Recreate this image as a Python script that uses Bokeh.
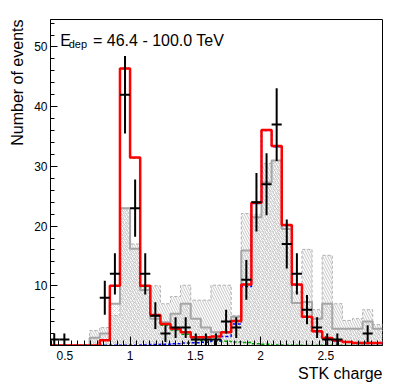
import math
from bokeh.plotting import figure
from bokeh.models import FixedTicker, Label, Range1d, Title
from bokeh.embed import file_html
from bokeh.resources import INLINE

# ---- binning (STK charge) ----
bin_lo = 0.38
bin_w = 0.0775
n_bins = 33
edges = [bin_lo + bin_w * i for i in range(n_bins + 1)]

# ---- data (events per bin) ----
counts = [1, 1, 0, 0, 0, 8, 12, 42, 23, 12, 5, 2, 3, 3, 1, 1, 1, 4, 3, 11,
          24, 27, 37, 17, 12, 6, 3, 1, 1, 0, 0, 2, 0]
count_err = [1.0, 1.0, 0, 0, 0, 2.83, 3.46, 6.48, 4.80, 3.46, 2.24, 1.41, 1.73,
             1.73, 1.0, 1.0, 1.0, 2.0, 1.73, 3.32, 4.90, 5.20, 6.08, 4.12, 3.46,
             2.45, 1.73, 1.0, 1.0, 0, 0, 1.41, 0]

# ---- fit result (red total) ----
fit_total = [0, 0, 0, 0, 0, 0.9, 10.0, 46.4, 31.5, 10.0, 5.1, 3.6, 2.8, 2.2,
             1.4, 1.4, 1.5, 2.2, 4.1, 10.2, 23.9, 36.1, 33.4, 20.2, 10.2, 4.8,
             2.4, 1.25, 0.85, 0.6, 0.4, 0.4, 0.4]
# ---- fit components ----
fit_z1 = [0, 0, 0, 0, 0, 0.9, 10.0, 46.4, 31.4, 9.9, 5.0, 3.4, 2.6, 1.9, 1.0,
          0.8, 0.7, 0.7, 0.6, 0.5, 0.3, 0.2, 0.1, 0.08, 0.05, 0.05, 0.05, 0.03,
          0.03, 0.02, 0.02, 0.02, 0.02]
fit_z2 = [0.02, 0.02, 0.02, 0.02, 0.02, 0.03, 0.04, 0.05, 0.06, 0.08, 0.15,
          0.2, 0.3, 0.4, 0.45, 0.55, 0.8, 1.5, 3.6, 9.9, 23.8, 36.0, 33.3, 20.1,
          10.1, 4.75, 2.35, 1.2, 0.8, 0.55, 0.35, 0.35, 0.35]

# ---- grey templates ----
templ_solid = [0, 0, 0, 0, 1.3, 2.0, 7.0, 23.0, 16.2, 9.3, 4.5, 3.9, 5.3, 7.0,
               4.5, 3.0, 2.2, 2.2, 4.8, 15.9, 21.5, 27.3, 31.0, 19.5, 7.1, 7.3,
               4.5, 7.0, 2.8, 2.8, 2.8, 4.0, 2.8]
templ_dashed = [0, 0, 0, 0, 2.5, 3.0, 5.0, 23.0, 17.0, 10.0, 10.0, 7.0, 8.2,
                10.1, 7.6, 7.6, 10.1, 10.1, 5.0, 22.1, 22.0, 30.5, 31.0, 20.0,
                9.0, 16.1, 6.0, 15.1, 7.0, 4.2, 4.5, 6.0, 3.5]

x_major = [0.5, 1.0, 1.5, 2.0, 2.5]
x_major_labels = ["0.5", "1", "1.5", "2", "2.5"]
y_major = [10, 20, 30, 40, 50]

FONT = "Liberation Sans"
X0, X1 = 0.39, 2.935
Y0, Y1 = 0.0, 54.6

p = figure(width=399, height=387, output_backend="svg", toolbar_location=None,
           x_range=Range1d(X0, X1), y_range=Range1d(Y0, Y1),
           frame_width=332, frame_height=326,
           min_border_left=48, min_border_right=19, min_border_top=19,
           min_border_bottom=42)
p.xgrid.visible = False
p.ygrid.visible = False
p.outline_line_color = "black"
p.outline_line_width = 1
p.background_fill_color = "white"
p.border_fill_color = "white"

lefts = edges[:-1]
rights = edges[1:]

# hatched templates
p.quad(left=lefts, right=rights, bottom=0, top=templ_dashed, fill_alpha=0,
       line_alpha=0, hatch_pattern="\\", hatch_color="#b8b8b8",
       hatch_scale=5, hatch_weight=0.8)
p.quad(left=lefts, right=rights, bottom=0, top=templ_solid, fill_alpha=0,
       line_alpha=0, hatch_pattern="x", hatch_color="#c4c4c4",
       hatch_scale=4, hatch_weight=0.6)

def step(vals, **kw):
    p.step(x=edges, y=list(vals) + [vals[-1]], mode="after", **kw)

step(templ_dashed, line_color="#b0b0b0", line_width=1, line_dash="3 2")
step(templ_solid, line_color="#a6a6a6", line_width=2)
step(fit_z1, line_color="#00a000", line_width=1.5, line_dash="3 2")
step(fit_z2, line_color="#0000ff", line_width=1.5, line_dash="3 2")
step(fit_total, line_color="#ff0000", line_width=2.5)

# data points with errors
cx = [(a + b) / 2 for a, b in zip(lefts, rights)]
sel = [i for i, c in enumerate(counts) if c > 0]
p.segment(x0=[cx[i] for i in sel], x1=[cx[i] for i in sel],
          y0=[counts[i] - count_err[i] for i in sel],
          y1=[counts[i] + count_err[i] for i in sel],
          line_color="black", line_width=2)
p.segment(x0=[lefts[i] for i in sel], x1=[rights[i] for i in sel],
          y0=[counts[i] for i in sel], y1=[counts[i] for i in sel],
          line_color="black", line_width=2)

# axes
xa = p.xaxis[0]
xa.ticker = FixedTicker(ticks=x_major,
                        minor_ticks=[round(0.4 + 0.05 * i, 3) for i in range(51)])
xa.major_label_overrides = {v: s for v, s in zip(x_major, x_major_labels)}
xa.major_tick_in = 9
xa.major_tick_out = 0
xa.minor_tick_in = 5
xa.minor_tick_out = 0
xa.major_label_standoff = 5
xa.major_label_text_font = FONT
xa.major_label_text_font_size = "12px"
xa.major_label_text_color = "black"
xa.axis_line_color = "black"
xa.major_tick_line_color = "black"
xa.minor_tick_line_color = "black"

ya = p.yaxis[0]
ya.ticker = FixedTicker(ticks=y_major, minor_ticks=list(range(2, 55, 2)))
ya.major_tick_in = 7
ya.major_tick_out = 0
ya.minor_tick_in = 4
ya.minor_tick_out = 0
ya.major_label_standoff = 3
ya.major_label_text_font = FONT
ya.major_label_text_font_size = "12px"
ya.major_label_text_color = "black"
ya.axis_line_color = "black"
ya.major_tick_line_color = "black"
ya.minor_tick_line_color = "black"

# axis titles, aligned at the axis end (ROOT style)
p.add_layout(Title(text="Number of events", align="right", text_font=FONT,
                   text_font_size="16px", text_font_style="normal",
                   text_color="black", standoff=12), "left")
p.add_layout(Title(text="STK charge", align="right", text_font=FONT,
                   text_font_size="16px", text_font_style="normal",
                   text_color="black", standoff=0), "below")

# pixel -> data helpers for text placement inside the frame
def dx(px):
    return X0 + (px - 48) * (X1 - X0) / 332.0

def dy(py):
    return Y0 + (345 - py) * (Y1 - Y0) / 326.0

p.add_layout(Label(x=dx(57.7), y=dy(40), text="E", text_align="left",
                   text_baseline="alphabetic", text_font=FONT,
                   text_font_size="16px", text_color="black"))
p.add_layout(Label(x=dx(66.2), y=dy(43.5), text="dep", text_align="left",
                   text_baseline="alphabetic", text_font=FONT,
                   text_font_size="11px", text_color="black"))
p.add_layout(Label(x=dx(90.5), y=dy(40), text="= 46.4 - 100.0 TeV",
                   text_align="left", text_baseline="alphabetic", text_font=FONT,
                   text_font_size="16px", text_color="black"))

open("out.html", "w").write(file_html(p, INLINE))
